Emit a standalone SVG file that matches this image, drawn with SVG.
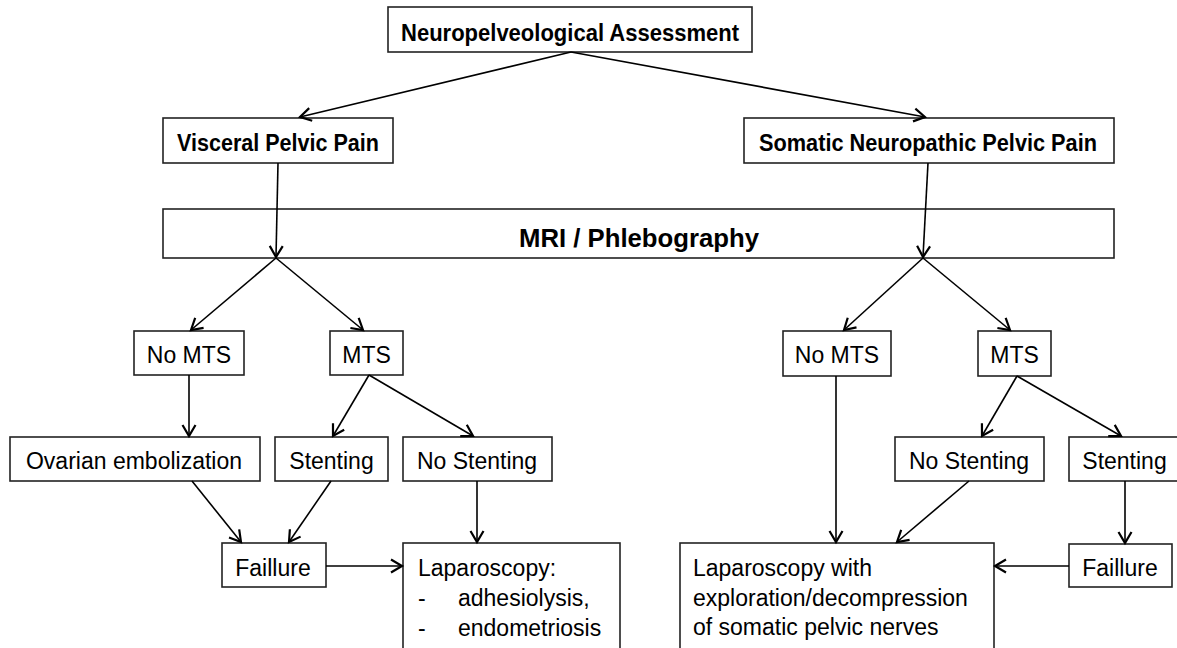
<svg xmlns="http://www.w3.org/2000/svg" width="1177" height="648" viewBox="0 0 1177 648">
<style>
.box{fill:#fff;stroke:#222;stroke-width:1.6}
.t{font-family:"Liberation Sans",Arial,sans-serif;font-size:23px;fill:#000;text-anchor:middle}
.tl{font-family:"Liberation Sans",Arial,sans-serif;font-size:23px;fill:#000}
.b{font-weight:bold;font-size:23px}
.big{font-weight:bold;font-size:26.5px}
.c{fill:none;stroke:#000;stroke-width:1.6}
</style>
<defs>
<marker id="ah" markerUnits="userSpaceOnUse" markerWidth="16" markerHeight="16" refX="12" refY="7" orient="auto" viewBox="0 0 16 14">
<path d="M1,0.5 L12,7 L1,13.5" fill="none" stroke="#000" stroke-width="2.2"/>
</marker>
</defs>
<rect width="1177" height="648" fill="#fff"/>
<g id="n-top"><rect class="box" x="388" y="7" width="364" height="45"/><text class="t b" x="570" y="41" textLength="338" lengthAdjust="spacingAndGlyphs">Neuropelveological Assessment</text></g>
<g id="n-visceral"><rect class="box" x="163" y="118" width="230" height="45"/><text class="t b" x="278" y="151" textLength="202" lengthAdjust="spacingAndGlyphs">Visceral Pelvic Pain</text></g>
<g id="n-somatic"><rect class="box" x="744" y="118" width="370" height="45"/><text class="t b" x="928" y="151" textLength="338" lengthAdjust="spacingAndGlyphs">Somatic Neuropathic Pelvic Pain</text></g>
<g id="n-mri"><rect class="box" x="163" y="209" width="951" height="49"/><text class="t big" x="639" y="247" textLength="240" lengthAdjust="spacingAndGlyphs">MRI / Phlebography</text></g>
<g id="n-nomts-l"><rect class="box" x="134" y="331" width="110" height="44"/><text class="t" x="189" y="362.5">No MTS</text></g>
<g id="n-mts-l"><rect class="box" x="330" y="331" width="73" height="44"/><text class="t" x="366.5" y="362.5">MTS</text></g>
<g id="n-nomts-r"><rect class="box" x="783" y="331" width="108" height="45"/><text class="t" x="837" y="363">No MTS</text></g>
<g id="n-mts-r"><rect class="box" x="978" y="331" width="73" height="45"/><text class="t" x="1014.5" y="363">MTS</text></g>
<g id="n-ovarian"><rect class="box" x="10" y="437" width="250" height="44"/><text class="t" x="134" y="469">Ovarian embolization</text></g>
<g id="n-stent-l"><rect class="box" x="275" y="437" width="113" height="44"/><text class="t" x="331.5" y="469">Stenting</text></g>
<g id="n-nostent-l"><rect class="box" x="403" y="437" width="149" height="44"/><text class="t" x="477" y="469">No Stenting</text></g>
<g id="n-nostent-r"><rect class="box" x="895" y="437" width="149" height="44"/><text class="t" x="969" y="469">No Stenting</text></g>
<g id="n-stent-r"><rect class="box" x="1069" y="437" width="115" height="44"/><text class="t" x="1124.5" y="469">Stenting</text></g>
<g id="n-fail-l"><rect class="box" x="222" y="543" width="104" height="44"/><text class="t" x="273" y="576">Faillure</text></g>
<g id="n-fail-r"><rect class="box" x="1069" y="544" width="103" height="43"/><text class="t" x="1120" y="576">Faillure</text></g>
<g id="n-lap-l"><rect class="box" x="403" y="543" width="217" height="120"/>
<text class="tl" x="418" y="576">Laparoscopy:</text>
<text class="tl" x="418" y="606">-</text><text class="tl" x="458" y="606">adhesiolysis,</text>
<text class="tl" x="418" y="636">-</text><text class="tl" x="458" y="636">endometriosis</text></g>
<g id="n-lap-r"><rect class="box" x="680" y="543" width="314" height="120"/>
<text class="tl" x="693" y="576">Laparoscopy with</text>
<text class="tl" x="693" y="606">exploration/decompression</text>
<text class="tl" x="693" y="635">of somatic pelvic nerves</text></g>
<g id="connectors" class="c">
<line class="c" x1="571" y1="52" x2="300" y2="117" marker-end="url(#ah)"/>
<line class="c" x1="571" y1="52" x2="925" y2="117" marker-end="url(#ah)"/>
<line class="c" x1="278" y1="163" x2="276" y2="257" marker-end="url(#ah)"/>
<line class="c" x1="928" y1="163" x2="923" y2="257" marker-end="url(#ah)"/>
<line class="c" x1="276" y1="258" x2="191" y2="330" marker-end="url(#ah)"/>
<line class="c" x1="276" y1="258" x2="363" y2="330" marker-end="url(#ah)"/>
<line class="c" x1="923" y1="258" x2="844" y2="330" marker-end="url(#ah)"/>
<line class="c" x1="923" y1="258" x2="1010" y2="330" marker-end="url(#ah)"/>
<line class="c" x1="189" y1="375" x2="189" y2="436" marker-end="url(#ah)"/>
<line class="c" x1="369" y1="375" x2="333" y2="436" marker-end="url(#ah)"/>
<line class="c" x1="369" y1="375" x2="473" y2="436" marker-end="url(#ah)"/>
<line class="c" x1="192" y1="481" x2="241" y2="542" marker-end="url(#ah)"/>
<line class="c" x1="331" y1="481" x2="289" y2="542" marker-end="url(#ah)"/>
<line class="c" x1="477" y1="481" x2="477" y2="542" marker-end="url(#ah)"/>
<line class="c" x1="326" y1="566" x2="402" y2="566" marker-end="url(#ah)"/>
<line class="c" x1="836" y1="376" x2="836" y2="542" marker-end="url(#ah)"/>
<line class="c" x1="1017" y1="376" x2="982" y2="436" marker-end="url(#ah)"/>
<line class="c" x1="1017" y1="376" x2="1121" y2="436" marker-end="url(#ah)"/>
<line class="c" x1="969" y1="481" x2="897" y2="542" marker-end="url(#ah)"/>
<line class="c" x1="1125" y1="481" x2="1125" y2="543" marker-end="url(#ah)"/>
<line class="c" x1="1069" y1="566" x2="995" y2="566" marker-end="url(#ah)"/>
</g>
</svg>
